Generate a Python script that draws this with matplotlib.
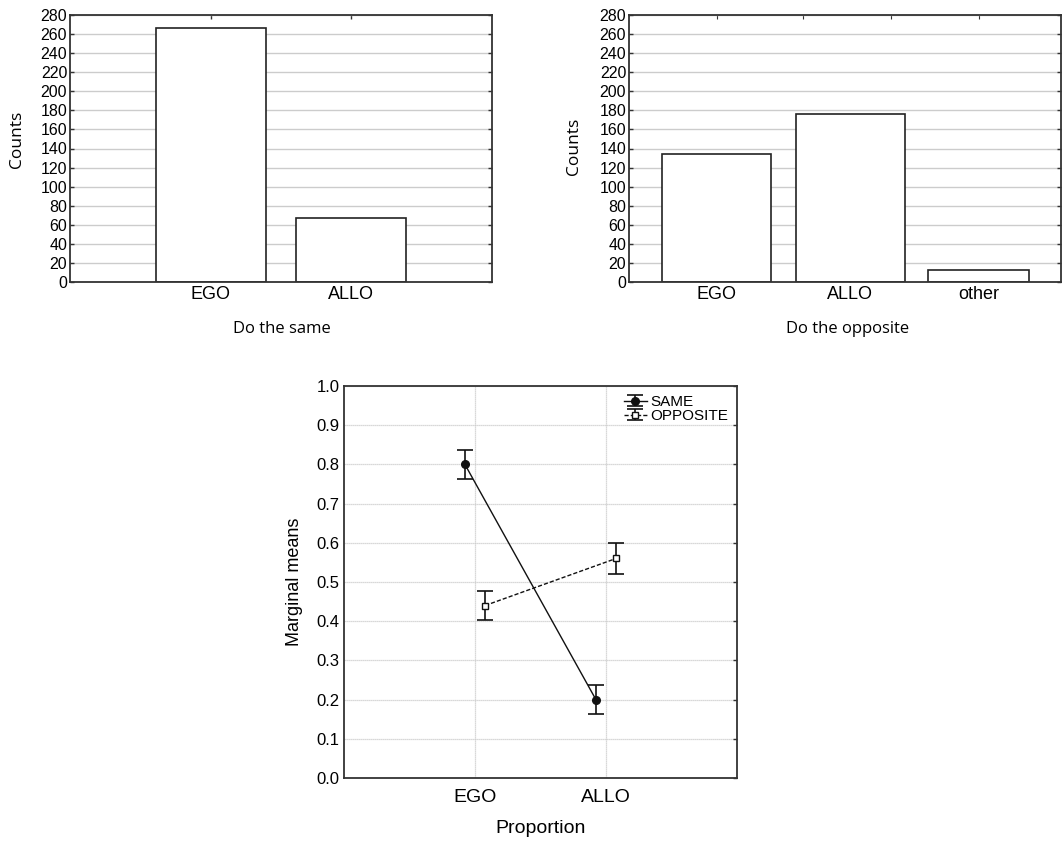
import matplotlib
matplotlib.use("Agg")
import matplotlib.pyplot as plt
from matplotlib.legend_handler import HandlerErrorbar

plt.rcParams['font.family'] = ['Liberation Sans', 'DejaVu Sans']

# ---- data ----
same_cats = ["EGO", "ALLO"]
same_counts = [266, 67]
opp_cats = ["EGO", "ALLO", "other"]
opp_counts = [134, 176, 13]
count_ticks = list(range(0, 281, 20))

prop_cats = ["EGO", "ALLO"]
same_means = [0.80, 0.20]
same_err = [0.038, 0.038]
opp_means = [0.44, 0.56]
opp_err = [0.038, 0.039]
mean_ticks = [0.0, 0.1, 0.2, 0.3, 0.4, 0.5, 0.6, 0.7, 0.8, 0.9, 1.0]

W, H = 1062, 843
fig = plt.figure(figsize=(W / 100, H / 100), dpi=100)

def ax_px(l, t, r, b):
    return fig.add_axes([l / W, 1 - b / H, (r - l) / W, (b - t) / H])

spine_c = "#333333"
grid_c = "#cccccc"
label_font = ['Open Sans', 'DejaVu Sans']

def style(ax, ysize):
    for s in ax.spines.values():
        s.set_color(spine_c)
        s.set_linewidth(1.3)
    ax.tick_params(direction="in", top=True, right=True, length=3,
                   color=spine_c, width=1)
    ax.tick_params(axis="y", labelsize=ysize, pad=2)
    ax.set_axisbelow(True)

# ---- Panel 1 ----
ax1 = ax_px(70, 15, 492, 282)
style(ax1, 11.5)
x1 = [1, 2]
ax1.bar(x1, same_counts, width=0.78, color="white", edgecolor="#222222", linewidth=1.2)
ax1.set_xlim(0, 3)
ax1.set_ylim(0, 280)
ax1.set_yticks(count_ticks)
ax1.set_xticks(x1)
ax1.set_xticklabels(same_cats, fontsize=13)
ax1.tick_params(axis="x", pad=3)
ax1.yaxis.grid(True, color=grid_c, linewidth=1)
fig.text(17 / W, 1 - 139 / H, "Counts", rotation=90, ha="center", va="center",
         fontsize=12.5, family=label_font)
fig.text(282 / W, 1 - 329 / H, "Do the same", ha="center", va="center",
         fontsize=12, family=label_font)

# ---- Panel 2 ----
ax2 = ax_px(629, 15, 1061, 282)
style(ax2, 11.5)
x2 = [1, 2.02, 3.0]
ax2.bar(x2, opp_counts, width=[0.83, 0.83, 0.77], color="white", edgecolor="#222222", linewidth=1.2)
ax2.set_xlim(0.33, 3.63)
ax2.set_ylim(0, 280)
ax2.set_yticks(count_ticks)
ax2.set_xticks(x2)
ax2.set_xticklabels(opp_cats, fontsize=13)
ax2.tick_params(axis="x", top=False, pad=3)
ax2.yaxis.grid(True, color=grid_c, linewidth=1)
sec = ax2.secondary_xaxis("top")
sec.set_xticks([1, 1.66, 2.33, 3.0])
sec.set_xticklabels([])
sec.tick_params(direction="in", length=3, color=spine_c)
sec.spines["top"].set_visible(False)
fig.text(574 / W, 1 - 146 / H, "Counts", rotation=90, ha="center", va="center",
         fontsize=12.5, family=label_font)
fig.text(848 / W, 1 - 329 / H, "Do the opposite", ha="center", va="center",
         fontsize=12, family=label_font)

# ---- Panel 3 ----
ax3 = ax_px(344, 386, 737, 778)
style(ax3, 12)
xc = [1, 2]
off = 0.077
ax3.errorbar([x - off for x in xc], same_means, yerr=same_err, color="#111111",
             marker="o", markersize=5.5, linestyle="-", linewidth=1.0,
             capsize=6, elinewidth=1.2, capthick=1.2, label="SAME")
ax3.errorbar([x + off for x in xc], opp_means, yerr=opp_err, color="#111111",
             marker="s", markersize=5, markerfacecolor="white", linestyle="--",
             dashes=(3, 1.5), linewidth=1.0, capsize=6, elinewidth=1.2,
             capthick=1.2, label="OPPOSITE")
ax3.set_xlim(0, 3)
ax3.set_ylim(0, 1.0)
ax3.set_yticks(mean_ticks)
ax3.set_yticklabels([f"{v:.1f}" for v in mean_ticks])
ax3.set_xticks(xc)
ax3.set_xticklabels(prop_cats, fontsize=14)
ax3.grid(True, color=grid_c, linewidth=0.9, linestyle=(0, (1, 0.6)))
ax3.tick_params(axis="x", top=False, bottom=False, pad=8)
ax3.tick_params(axis="y", left=False, right=True, pad=3)
ax3.set_ylabel("Marginal means", fontsize=13, labelpad=10)
ax3.set_xlabel("Proportion", fontsize=14, labelpad=10)
leg = ax3.legend(loc="upper right", frameon=False, fontsize=11,
                 handlelength=1.5, handletextpad=0.2, labelspacing=0.0,
                 borderaxespad=0.2,
                 handler_map={matplotlib.container.ErrorbarContainer:
                              HandlerErrorbar(xerr_size=0.5, yerr_size=0.35)})

fig.savefig("out.png", dpi=100, facecolor="white")
